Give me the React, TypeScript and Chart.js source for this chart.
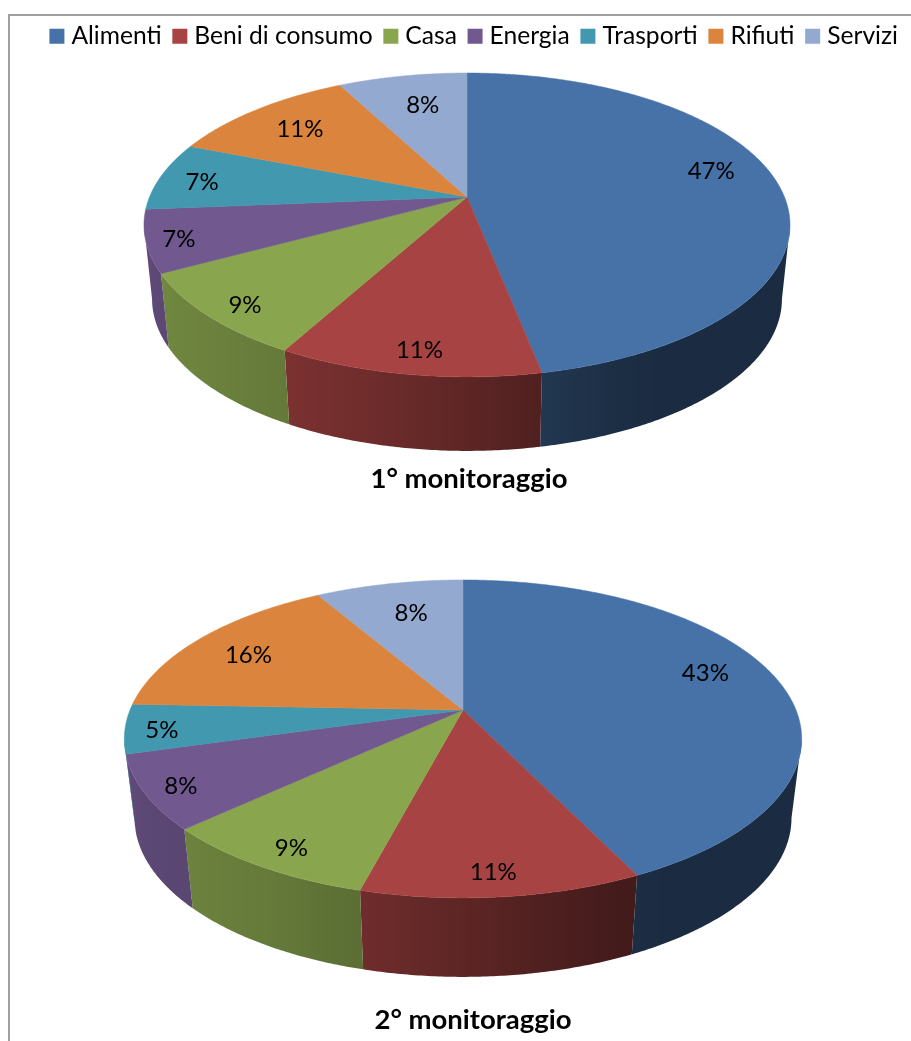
import React, { useEffect, useRef } from "react";
import { Chart, registerables } from "chart.js";

Chart.register(...registerables);

const categories = ["Alimenti", "Beni di consumo", "Casa", "Energia", "Trasporti", "Rifiuti", "Servizi"];
const monitoraggio1 = [46.9, 11.1, 9.1, 6.6, 7.3, 11.3, 7.7];
const monitoraggio2 = [42.8, 11.3, 9.0, 7.5, 5.0, 16.0, 8.4];
const sliceColors = ["#4672A8", "#A74342", "#89A54E", "#71588F", "#4198AF", "#DB843D", "#93A9CF"];

const FONT = "Lato, Carlito, Calibri, sans-serif";

// wall brightness by clockwise angle from the top of the pie (degrees → factor)
const wallShade: [number, number][] = [
  [0, 0.39], [150, 0.39], [158, 0.41], [169, 0.48], [194, 0.66], [209, 0.74],
  [227, 0.79], [241, 0.82], [266, 0.88], [360, 0.9],
];

type Geometry = {
  cx: number; cy: number; a: number; b: number; k: number;
  depth: number; taper: number; labelR: number; nudges: [number, number][];
};

const geometry1: Geometry = {
  cx: 467, cy: 197, a: 317.5, b: 146.8, k: 0.184, depth: 74, taper: 0.975, labelR: 0.8,
  nudges: [[-5, -15], [-2, 16], [-21, 15], [-34, 6], [-19, 1], [5, 3], [9, 7]],
};
const geometry2: Geometry = {
  cx: 463, cy: 200, a: 333, b: 153.7, k: 0.182, depth: 79, taper: 0.97, labelR: 0.8,
  nudges: [[-9, -11], [0, 18], [-15, 17], [-32, 10], [-32, 4], [-2, 3], [9, 6]],
};

function project(g: Geometry, angle: number, r = 1): [number, number] {
  const u = Math.cos(angle) * r;
  const v = Math.sin(angle) * r;
  const d = 1 - g.k * v;
  return [g.cx + (g.a * u) / d, g.cy + (g.b * v) / d];
}

function lower(g: Geometry, p: [number, number]): [number, number] {
  return [g.cx + (p[0] - g.cx) * g.taper, p[1] + g.depth];
}

function shadeAt(deg: number): number {
  for (let i = 1; i < wallShade.length; i++) {
    const [x0, y0] = wallShade[i - 1];
    const [x1, y1] = wallShade[i];
    if (deg <= x1) return y0 + ((y1 - y0) * (deg - x0)) / (x1 - x0);
  }
  return 0.9;
}

function shaded(hex: string, f: number): string {
  const n = parseInt(hex.slice(1), 16);
  const c = [(n >> 16) & 255, (n >> 8) & 255, n & 255].map((x) => Math.round(x * f));
  return `rgb(${c[0]},${c[1]},${c[2]})`;
}

const STEP = Math.PI / 360;

function pie3dPlugin(g: Geometry) {
  return {
    id: "pie3d",
    beforeDatasetsDraw(chart: any) {
      const ctx = chart.ctx as CanvasRenderingContext2D;
      const arcs = chart.getDatasetMeta(0).data as any[];
      const values = chart.data.datasets[0].data as number[];
      // the visible wall lies between the two points where the rim is widest
      const frontFrom = Math.asin(g.k);
      const frontTo = Math.PI - frontFrom;
      ctx.save();

      // side wall: one outline per slice, filled with a left-to-right shading
      arcs.forEach((arc) => {
        const { startAngle, endAngle } = arc.getProps(["startAngle", "endAngle"], true);
        const from = Math.max(startAngle, frontFrom);
        const to = Math.min(endAngle, frontTo);
        if (to <= from) return;
        const base = arc.options.backgroundColor as string;
        const angles: number[] = [];
        for (let t = from; t < to; t += STEP) angles.push(t);
        angles.push(to);
        const rim = angles.map((t) => project(g, t));
        const low = rim.map((p) => lower(g, p));
        const xs = rim.map((p) => p[0]);
        const xMin = Math.min(...xs);
        const xMax = Math.max(...xs);
        const grad = ctx.createLinearGradient(xMin, 0, xMax, 0);
        angles
          .map((t, i) => ({
            pos: (xs[i] - xMin) / Math.max(1, xMax - xMin),
            color: shaded(base, shadeAt(((t + Math.PI / 2) * 180) / Math.PI)),
          }))
          .sort((p, q) => p.pos - q.pos)
          .forEach((s) => grad.addColorStop(Math.min(1, s.pos), s.color));
        ctx.beginPath();
        rim.forEach((p, i) => (i ? ctx.lineTo(p[0], p[1]) : ctx.moveTo(p[0], p[1])));
        for (let i = low.length - 1; i >= 0; i--) ctx.lineTo(low[i][0], low[i][1]);
        ctx.closePath();
        ctx.fillStyle = grad;
        ctx.fill();
      });

      // top face
      arcs.forEach((arc) => {
        const { startAngle, endAngle } = arc.getProps(["startAngle", "endAngle"], true);
        ctx.beginPath();
        ctx.moveTo(g.cx, g.cy);
        for (let t = startAngle; t < endAngle; t += STEP) {
          const p = project(g, t);
          ctx.lineTo(p[0], p[1]);
        }
        const e = project(g, endAngle);
        ctx.lineTo(e[0], e[1]);
        ctx.closePath();
        ctx.fillStyle = arc.options.backgroundColor;
        ctx.strokeStyle = arc.options.backgroundColor;
        ctx.lineWidth = 0.5;
        ctx.fill();
        ctx.stroke();
      });

      // value labels
      ctx.fillStyle = "#000";
      ctx.font = `24px ${FONT}`;
      ctx.textAlign = "center";
      ctx.textBaseline = "middle";
      arcs.forEach((arc, i) => {
        const { startAngle, endAngle } = arc.getProps(["startAngle", "endAngle"], true);
        const p = project(g, (startAngle + endAngle) / 2, g.labelR);
        ctx.fillText(`${Math.round(values[i])}%`, p[0] + g.nudges[i][0], p[1] + g.nudges[i][1] + 1);
      });
      ctx.restore();
      return false;
    },
  };
}

function PieCanvas(props: {
  values: number[]; title: string; geometry: Geometry; top: number; height: number;
  showLegend: boolean; titleBottom: number; padLeft: number; padRight: number;
}) {
  const ref = useRef<HTMLCanvasElement>(null);
  useEffect(() => {
    const chart = new Chart(ref.current!, {
      type: "pie",
      data: {
        labels: categories,
        datasets: [{ data: props.values, backgroundColor: sliceColors, borderWidth: 0 }],
      },
      options: {
        animation: false,
        responsive: false,
        layout: { padding: { top: 8, left: props.padLeft, right: props.padRight } },
        plugins: {
          legend: {
            display: props.showLegend,
            position: "top",
            align: "end",
            labels: {
              font: { family: FONT, size: 24.6 },
              color: "#000",
              boxWidth: 4.4,
              boxHeight: 15,
              usePointStyle: true,
              pointStyle: "rect",
              padding: 16,
            },
          },
          title: {
            display: true,
            text: props.title,
            position: "bottom",
            color: "#000",
            font: { family: FONT, size: 27.5, weight: "bold" },
            padding: { top: 0, bottom: props.titleBottom },
          },
          tooltip: { enabled: false },
        },
      },
      plugins: [pie3dPlugin(props.geometry)],
    } as any);
    return () => chart.destroy();
  }, []);
  return (
    <canvas
      ref={ref}
      width={911}
      height={props.height}
      style={{ position: "absolute", left: 0, top: props.top, width: 911, height: props.height, display: "block" }}
    />
  );
}

export default function App() {
  return (
    <div>
      <div
        style={{
          position: "absolute", left: 8, top: 14, width: 903, height: 1027, boxSizing: "border-box",
          borderLeft: "2px solid #a0a0a0", borderTop: "2px solid #a0a0a0",
        }}
      />
      <PieCanvas values={monitoraggio1} title="1° monitoraggio" geometry={geometry1} top={0} height={510}
        showLegend titleBottom={14} padLeft={24} padRight={-3} />
      <PieCanvas values={monitoraggio2} title="2° monitoraggio" geometry={geometry2} top={510} height={531}
        showLegend={false} titleBottom={4} padLeft={35} padRight={0} />
    </div>
  );
}
